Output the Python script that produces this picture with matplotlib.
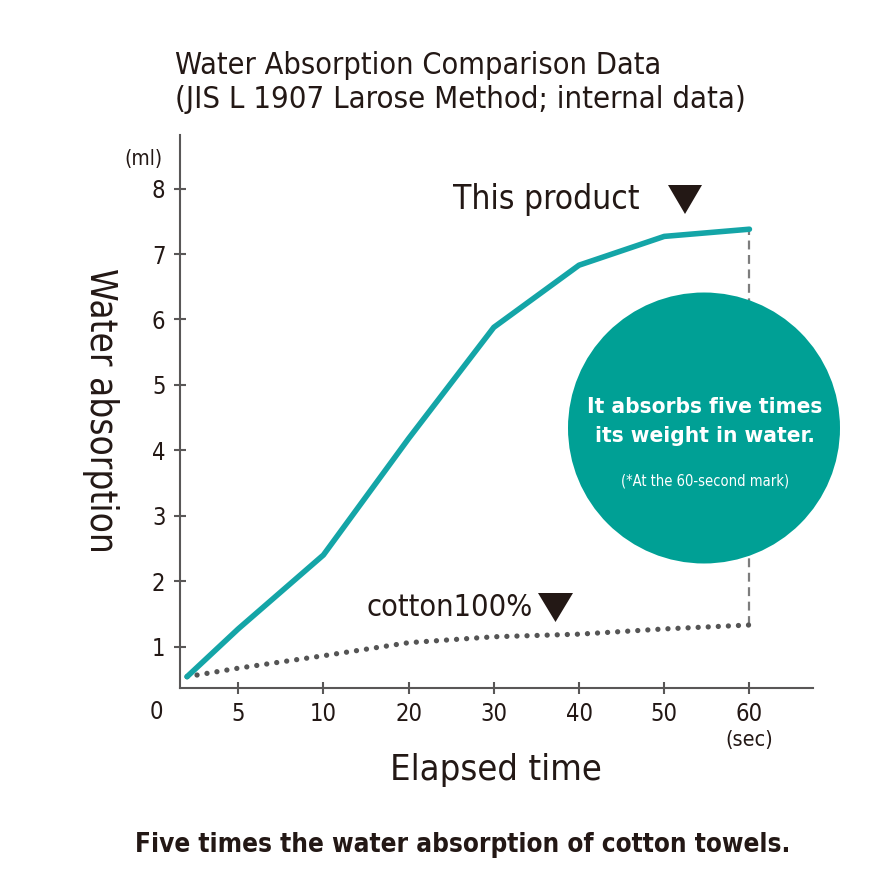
import numpy as np
import matplotlib
matplotlib.use("Agg")
import matplotlib.pyplot as plt
from matplotlib.patches import Ellipse, Polygon

plt.rcParams['font.family'] = ['DejaVu Sans']
plt.rcParams['font.stretch'] = 'condensed'

# data ------------------------------------------------------------
tick_times = [0, 5, 10, 20, 30, 40, 50, 60]
time_sec = [2, 5, 10, 20, 30, 40, 50, 60]
product = [0.54, 1.27, 2.40, 4.18, 5.88, 6.83, 7.27, 7.38]
cotton = [0.54, 0.67, 0.86, 1.06, 1.15, 1.19, 1.27, 1.33]
y_ticks = [1, 2, 3, 4, 5, 6, 7, 8]

ink = '#231815'
teal_line = '#14a5a7'
teal_circle = '#00a095'
axis_grey = '#595757'

# x axis is not linear: every tick gets the same spacing
slots = np.arange(len(tick_times))
def to_slot(t):
    return np.interp(t, tick_times, slots)

fig = plt.figure(figsize=(8.9, 8.89), dpi=100)
W, H = 890, 889
ax = fig.add_axes([180 / W, 1 - 688 / H, (813 - 180) / W, (688 - 135) / H])
ax.set_xlim(0.317, 7.746)
ax.set_ylim(0.367, 8.82)

for s in ['top', 'right']:
    ax.spines[s].set_visible(False)
for s in ['left', 'bottom']:
    ax.spines[s].set_color(axis_grey)
    ax.spines[s].set_linewidth(1.5)

ax.set_xticks(slots[1:])
ax.set_xticklabels([str(t) for t in tick_times[1:]])
ax.set_yticks(y_ticks)
ax.set_yticklabels([str(v) for v in y_ticks])
ax.tick_params(axis='y', direction='inout', length=9, width=1.5, color=axis_grey,
               labelsize=17, labelcolor=ink, pad=6)
ax.tick_params(axis='x', direction='inout', length=8, width=1.5, color=axis_grey,
               labelsize=17, labelcolor=ink, pad=6)

# curves
xs = to_slot(time_sec)
ax.plot(xs, cotton, color='#555555', lw=3.8, linestyle=(0, (0.01, 1.9)),
        dash_capstyle='round', zorder=3)
ax.plot(xs, product, color=teal_line, lw=4.0, solid_capstyle='round',
        solid_joinstyle='round', zorder=4)
ax.plot([xs[-1], xs[-1]], [cotton[-1], product[-1]], color='#7d7d7d', lw=1.6,
        linestyle=(0, (4, 2.5)), zorder=2)

# circle callout
circ = Ellipse((704 / W, 1 - 428 / H), 272 / W, 271 / H, transform=fig.transFigure,
               facecolor=teal_circle, edgecolor='none', zorder=5)
fig.patches.append(circ)
fig.text(705 / W, 1 - 407 / H, 'It absorbs five times', color='white', fontsize=16.2,
         fontweight='bold', ha='center', va='center', zorder=6)
fig.text(705 / W, 1 - 436 / H, 'its weight in water.', color='white', fontsize=16.2,
         fontweight='bold', ha='center', va='center', zorder=6)
fig.text(705 / W, 1 - 481 / H, '(*At the 60-second mark)', color='white', fontsize=10.5,
         ha='center', va='center', zorder=6)

# labels on the lines
def down_triangle(cx, cy, w, h):
    pts = [(cx - w / 2, cy - h / 2), (cx + w / 2, cy - h / 2), (cx, cy + h / 2)]
    tri = Polygon([(px / W, 1 - py / H) for px, py in pts], closed=True,
                  transform=fig.transFigure, facecolor=ink, edgecolor='none')
    fig.patches.append(tri)

fig.text(453 / W, 1 - 200 / H, 'This product', color=ink, fontsize=24,
         ha='left', va='center')
down_triangle(685, 199.5, 34, 29)
fig.text(367 / W, 1 - 607 / H, 'cotton100%', color=ink, fontsize=22,
         ha='left', va='center')
down_triangle(555.5, 607.5, 35, 29)

# units and axis titles
fig.text(143 / W, 1 - 159 / H, '(ml)', color=ink, fontsize=15, ha='center', va='center')
fig.text(156 / W, 1 - 712 / H, '0', color=ink, fontsize=17, ha='center', va='center')
fig.text(749 / W, 1 - 740 / H, '(sec)', color=ink, fontsize=15.5, ha='center', va='center')
fig.text(100 / W, 1 - 410 / H, 'Water absorption', color=ink, fontsize=26.5,
         rotation=270, ha='center', va='center')
fig.text(496 / W, 1 - 770 / H, 'Elapsed time', color=ink, fontsize=26,
         ha='center', va='center')

# title and caption
fig.text(175 / W, 1 - 65 / H, 'Water Absorption Comparison Data', color=ink,
         fontsize=22, ha='left', va='center')
fig.text(175 / W, 1 - 100 / H, '(JIS L 1907 Larose Method; internal data)', color=ink,
         fontsize=22.3, ha='left', va='center')
fig.text(463 / W, 1 - 845 / H, 'Five times the water absorption of cotton towels.',
         color=ink, fontsize=18.7, fontweight='bold', ha='center', va='center')

fig.savefig('out.png', dpi=100)
